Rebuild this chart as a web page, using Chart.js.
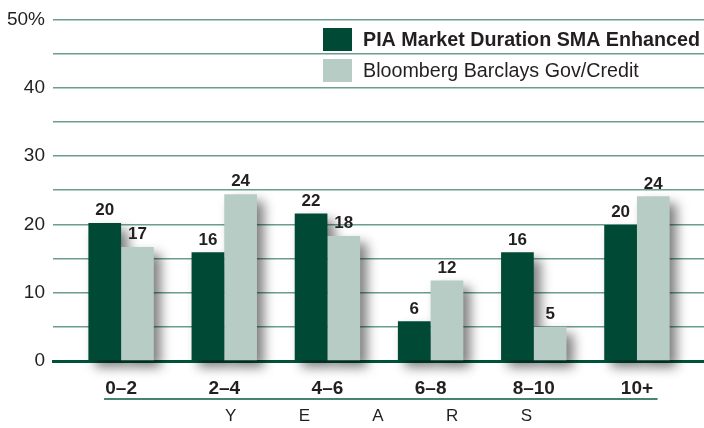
<!DOCTYPE html>
<html>
<head>
<meta charset="utf-8">
<script src="https://cdn.jsdelivr.net/npm/chart.js@4.4.1/dist/chart.umd.min.js"></script>
<style>
  html, body { margin: 0; padding: 0; background: #fff; }
  #wrap { width: 704px; height: 428px; position: relative; }
</style>
</head>
<body>
<div id="wrap"><canvas id="chart"></canvas></div>
<script>
const categories = ['0–2', '2–4', '4–6', '6–8', '8–10', '10+'];
const piaValues = [20.2, 15.9, 21.6, 5.8, 15.9, 19.9];
const bbgValues = [16.7, 24.4, 18.3, 11.8, 5.0, 24.1];
const seriesNames = ['PIA Market Duration SMA Enhanced', 'Bloomberg Barclays Gov/Credit'];
const axisTitle = 'YEARS';

const FONT = '"Liberation Sans", Arial, sans-serif';
const DARK = '#004a35';
const LIGHT = '#b7ccc4';
const GRID = '#6a9e8d';
const TEXT = '#231f20';

// drop shadow behind every bar
const barShadow = {
  id: 'barShadow',
  beforeDatasetsDraw(chart) {
    const ctx = chart.ctx;
    ctx.save();
    ctx.filter = 'blur(6px)';
    ctx.fillStyle = 'rgba(0, 0, 0, 0.5)';
    chart.data.datasets.forEach((ds, i) => {
      chart.getDatasetMeta(i).data.forEach((bar) => {
        const p = bar.getProps(['x', 'y', 'base', 'width']);
        ctx.fillRect(p.x - p.width / 2 + 7, p.y + 7, p.width, p.base - p.y);
      });
    });
    ctx.restore();
  }
};

// value labels above bars
const valueLabels = {
  id: 'valueLabels',
  afterDatasetsDraw(chart) {
    const ctx = chart.ctx;
    ctx.save();
    ctx.font = 'bold 17px ' + FONT;
    ctx.fillStyle = TEXT;
    ctx.textAlign = 'center';
    ctx.textBaseline = 'bottom';
    chart.data.datasets.forEach((ds, i) => {
      chart.getDatasetMeta(i).data.forEach((bar, j) => {
        ctx.fillText(Math.round(ds.data[j].y), bar.x, bar.y - 4);
      });
    });
    ctx.restore();
  }
};

// legend at top right + rule under the category labels
const extras = {
  id: 'extras',
  afterDraw(chart) {
    const ctx = chart.ctx;
    ctx.save();
    const rows = [39.5, 70.5];
    chart.data.datasets.forEach((ds, i) => {
      ctx.fillStyle = ds.backgroundColor;
      ctx.fillRect(323, rows[i] - 11.5, 29, 23);
      ctx.fillStyle = TEXT;
      ctx.font = (i === 0 ? 'bold ' : '') + '19.7px ' + FONT;
      ctx.textBaseline = 'middle';
      ctx.textAlign = 'left';
      ctx.fillText(ds.label, 363, rows[i] + 1);
    });
    const x = chart.scales.x;
    ctx.strokeStyle = '#0b5a43';
    ctx.lineWidth = 1.5;
    ctx.beginPath();
    ctx.moveTo(x.getPixelForValue(-0.165), 399);
    ctx.lineTo(x.getPixelForValue(5.2), 399);
    ctx.stroke();
    ctx.restore();
  }
};

new Chart(document.getElementById('chart'), {
  type: 'bar',
  data: {
    datasets: [
      {
        label: seriesNames[0],
        data: piaValues.map((v, i) => ({ x: i, y: v })),
        backgroundColor: DARK,
      },
      {
        label: seriesNames[1],
        data: bbgValues.map((v, i) => ({ x: i, y: v })),
        backgroundColor: LIGHT,
      }
    ]
  },
  options: {
    responsive: true,
    maintainAspectRatio: false,
    animation: false,
    categoryPercentage: 0.634,
    barPercentage: 1,
    layout: { padding: { top: 19, right: 0, left: 0, bottom: 0 } },
    scales: {
      x: {
        type: 'linear',
        offset: false,
        min: -0.66,
        max: 5.65,
        z: 1,
        grid: { display: false, offset: false },
        border: { display: true, color: '#00533a', width: 3 },
        afterBuildTicks: (scale) => {
          scale.ticks = categories.map((c, i) => ({ value: i }));
        },
        afterFit: (scale) => { scale.height = 67; },
        ticks: {
          autoSkip: false,
          maxRotation: 0,
          padding: 8,
          color: TEXT,
          font: { family: FONT, size: 19, weight: 'bold' },
          callback: (v) => categories[v]
        },
        title: {
          display: true,
          text: axisTitle.split('').join('\u2003\u2003\u2003\u2002\u2006'),
          color: TEXT,
          font: { family: FONT, size: 17 },
          padding: { top: 0, bottom: 1 }
        }
      },
      y: {
        min: 0,
        max: 50,
        grid: { color: GRID, lineWidth: 1.6, drawTicks: false },
        border: { display: false },
        afterFit: (scale) => { scale.width = 53; },
        ticks: {
          stepSize: 5,
          padding: 8,
          color: TEXT,
          font: { family: FONT, size: 19 },
          callback: (v) => (v % 10 !== 0 ? '' : v === 50 ? '50%' : v)
        }
      }
    },
    plugins: {
      legend: { display: false },
      tooltip: { enabled: false }
    }
  },
  plugins: [barShadow, valueLabels, extras]
});
</script>
</body>
</html>
